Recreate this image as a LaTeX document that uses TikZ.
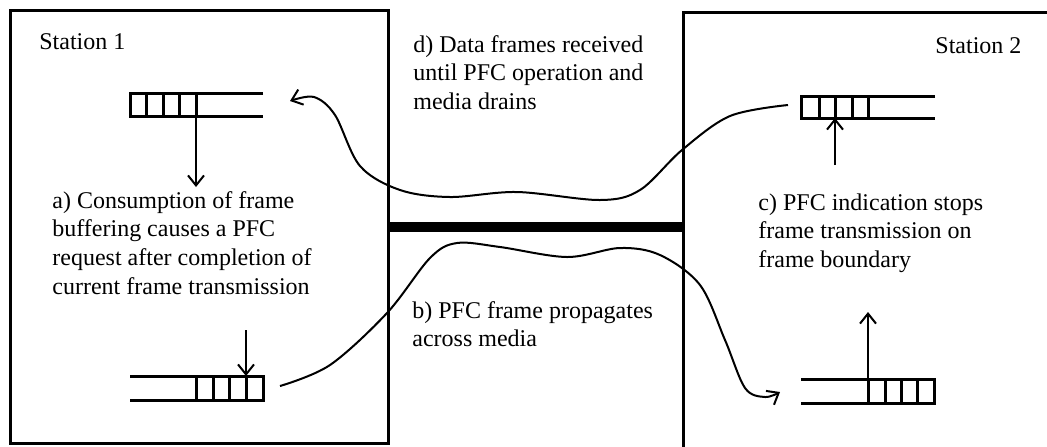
\documentclass[tikz,border=0pt]{standalone}
\usepackage{fontspec}
\setmainfont{Liberation Serif}
\usetikzlibrary{arrows.meta}

\begin{document}
\begin{tikzpicture}[x=0.5pt, y=-0.5pt]
    % Define styles
    \tikzset{
        station/.style={draw, line width=1.5pt},
        buffer/.style={line width=1.5pt},
        medium/.style={line width=5pt},
        arrow/.style={-{Straight Barb[length=5pt, width=8pt]}, line width=1pt},
        flow/.style={arrow, smooth, tension=0.55},
        label/.style={anchor=north west, inner sep=0pt, align=left, font=\fontsize{12}{14.3}\selectfont}
    }
    \useasboundingbox (0,0) rectangle (1047,446);

    % Stations and the medium between them
    \node[station, minimum width=189pt, minimum height=216.5pt] (st1) at (199,226.5) {};
    \node[station, anchor=north west, minimum width=209pt, minimum height=245pt] (st2) at (682,11) {};
    \draw[medium] (st1.east) -- (st1.east -| st2.west);

    % Station labels
    \node[label] (name1) at (39,33) {Station 1};
    \node[label] (name2) at (935,37) {Station 2};

    % Station 1 receive buffer
    \draw[buffer] (263,93) -- (130,93) -- (130,116) -- (263,116);
    \foreach \x in {146.5,163,179.5,196} \draw[buffer] (\x,93) -- (\x,116);

    % Station 1 transmit buffer
    \draw[buffer] (130,376) -- (263,376) -- (263,400) -- (130,400);
    \foreach \x in {196,213,229.5,246} \draw[buffer] (\x,376) -- (\x,400);

    % Station 2 transmit buffer
    \draw[buffer] (935,96) -- (801,96) -- (801,118) -- (935,118);
    \foreach \x in {819,835,852,868} \draw[buffer] (\x,96) -- (\x,118);

    % Station 2 receive buffer
    \draw[buffer] (801,379) -- (934,379) -- (934,403) -- (801,403);
    \foreach \x in {868,885,901,917} \draw[buffer] (\x,379) -- (\x,403);

    % Buffer arrows
    \coordinate (fill1) at (196,116);
    \coordinate (req1) at (196,187);
    \draw[arrow] (fill1) -- (req1);
    \coordinate (req2) at (246,330);
    \coordinate (tx1) at (246,376);
    \draw[arrow] (req2) -- (tx1);
    \coordinate (stop1) at (835,165);
    \coordinate (tx2) at (835,118);
    \draw[arrow] (stop1) -- (tx2);
    \coordinate (rx2) at (868,379);
    \coordinate (stop2) at (868,312);
    \draw[arrow] (rx2) -- (stop2);

    % Data frames from station 2 to station 1
    \coordinate (dataA) at (788,105);
    \coordinate (dataB) at (290,101);
    \draw[flow] plot coordinates {(dataA) (730,116) (682,150) (640,190) (600,200) (517,192) (450,197) (400,190) (360,166) (335,115) (314,97) (dataB)};

    % PFC frame from station 1 to station 2
    \coordinate (pfcA) at (280,386);
    \coordinate (pfcB) at (780,392);
    \draw[flow] plot coordinates {(pfcA) (330,365) (387,313) (430,258) (457,243) (500,247) (567,257) (620,248) (660,255) (700,285) (725,340) (745,388) (765,397) (pfcB)};

    % Descriptions
    \node[label] (consume) at (52,191) {a) Consumption of frame\\buffering causes a PFC\\request after completion of\\current frame transmission};
    \node[label] (propagate) at (412,301) {b) PFC frame propagates\\across media};
    \node[label] (indicate) at (758,193) {c) PFC indication stops\\frame transmission on\\frame boundary};
    \node[label] (drain) at (413,35) {d) Data frames received\\until PFC operation and\\media drains};

\end{tikzpicture}
\end{document}
